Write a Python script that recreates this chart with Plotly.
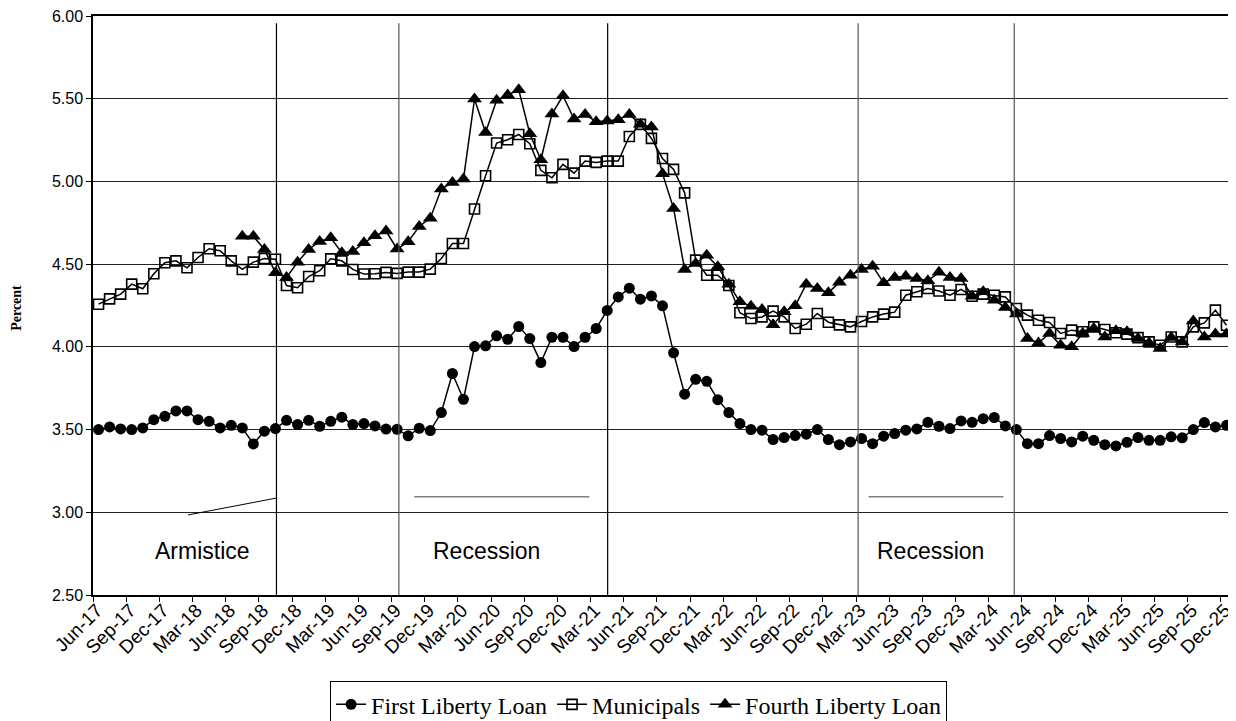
import plotly.graph_objects as go

# ---- data (monthly, Jun-17 .. Dec-25) ----
tick_labels = []
_months = ["Mar", "Jun", "Sep", "Dec"]
for yr in range(17, 26):
    for m in _months:
        if (yr == 17 and m == "Mar"):
            continue
        tick_labels.append(f"{m}-{yr}")

first_liberty = [3.50, 3.516, 3.504, 3.50, 3.51, 3.56, 3.58, 3.613, 3.613, 3.56,
                 3.55, 3.51, 3.526, 3.51, 3.413, 3.49, 3.506, 3.556, 3.53, 3.556,
                 3.52, 3.55, 3.575, 3.53, 3.536, 3.522, 3.503,
                 3.502, 3.462, 3.508, 3.494, 3.603, 3.839, 3.683, 4.002, 4.006, 4.067,
                 4.046, 4.123, 4.05, 3.905, 4.058, 4.058, 4.002, 4.058, 4.111, 4.22,
                 4.302, 4.355, 4.288, 4.308, 4.248,
                 3.964, 3.714, 3.804, 3.792, 3.681, 3.603, 3.536, 3.50, 3.496, 3.44,
                 3.452, 3.464, 3.472, 3.50, 3.44, 3.409, 3.425, 3.446, 3.415, 3.46,
                 3.476, 3.496, 3.504, 3.544, 3.52,
                 3.506, 3.552, 3.544, 3.566, 3.573, 3.522, 3.50, 3.415, 3.415, 3.464,
                 3.446, 3.425, 3.46, 3.435, 3.409, 3.401, 3.423, 3.452, 3.435, 3.435,
                 3.456, 3.45, 3.50, 3.542, 3.516, 3.526]

municipals = [4.258, 4.29, 4.319, 4.379, 4.351, 4.442, 4.508, 4.52, 4.478, 4.54,
              4.593, 4.581, 4.52, 4.468, 4.512, 4.534, 4.53, 4.371, 4.357, 4.425,
              4.46, 4.532, 4.52, 4.468, 4.44, 4.442, 4.45,
              4.444, 4.452, 4.452, 4.47, 4.534, 4.625, 4.625, 4.833, 5.034, 5.232,
              5.252, 5.284, 5.228, 5.067, 5.022, 5.103, 5.05, 5.123, 5.115, 5.123,
              5.123, 5.272, 5.345, 5.26, 5.139,
              5.073, 4.931, 4.524, 4.433, 4.433, 4.371, 4.206, 4.171, 4.181, 4.216,
              4.181, 4.111, 4.137, 4.202, 4.149, 4.133, 4.121, 4.153, 4.181, 4.198,
              4.21, 4.312, 4.333, 4.353, 4.338,
              4.312, 4.347, 4.306, 4.319, 4.312, 4.302, 4.232, 4.192, 4.161, 4.147,
              4.081, 4.101, 4.091, 4.121, 4.105, 4.085, 4.077, 4.056, 4.03, 4.01,
              4.06, 4.03, 4.121, 4.145, 4.222, 4.131]

fourth_liberty = [None] * 13 + [
    4.669, 4.669, 4.589, 4.448, 4.419, 4.512, 4.589, 4.637, 4.659, 4.569,
    4.577, 4.629, 4.671, 4.70,
    4.591, 4.635, 4.728, 4.778, 4.954, 4.994, 5.014, 5.498, 5.296, 5.49,
    5.522, 5.554, 5.288, 5.131, 5.407, 5.518, 5.377, 5.405, 5.361, 5.365,
    5.373, 5.405, 5.345, 5.329, 5.047,
    4.837, 4.468, 4.504, 4.554, 4.484, 4.379, 4.272, 4.246, 4.226, 4.133,
    4.212, 4.248, 4.379, 4.353, 4.327, 4.391, 4.433, 4.468, 4.488, 4.387,
    4.419, 4.427, 4.413, 4.399, 4.451,
    4.419, 4.413, 4.306, 4.333, 4.282, 4.238, 4.198, 4.05, 4.024, 4.081,
    4.01, 4.0, 4.081, 4.111, 4.06, 4.097, 4.091, 4.05, 4.024, 3.99,
    4.056, 4.03, 4.157, 4.06, 4.077, 4.077]

idx = list(range(len(first_liberty)))

fig = go.Figure()
fig.add_trace(go.Scatter(x=idx, y=first_liberty, name="First Liberty Loan", mode="lines+markers",
                         line=dict(color="black", width=1.5),
                         marker=dict(symbol="circle", size=11, color="black")))
fig.add_trace(go.Scatter(x=idx, y=municipals, name="Municipals", mode="lines+markers",
                         line=dict(color="black", width=1.5),
                         marker=dict(symbol="square-open", size=10, color="black", line=dict(width=1.6))))
fig.add_trace(go.Scatter(x=idx, y=fourth_liberty, name="Fourth Liberty Loan", mode="lines+markers",
                         line=dict(color="black", width=1.5),
                         marker=dict(symbol="triangle-up", size=13, color="black")))

shapes = []
# event separator lines
for xv, col in [(16.09, "black"), (27.16, "#555"), (46.04, "black"), (68.69, "#555"), (82.81, "#555")]:
    shapes.append(dict(type="line", xref="x", yref="y", x0=xv, x1=xv, y0=5.956, y1=2.5,
                       line=dict(color=col, width=1.2)))
# armistice pointer
shapes.append(dict(type="line", xref="x", yref="y", x0=8.10, y0=2.984, x1=16.09, y1=3.086,
                   line=dict(color="black", width=1)))
# recession bars
for a, b in [(28.55, 44.38), (69.63, 81.84)]:
    shapes.append(dict(type="line", xref="x", yref="y", x0=a, x1=b, y0=3.094, y1=3.094,
                       line=dict(color="#808080", width=1.5)))

annotations = []
for txt, xv in [("Armistice", 9.37), ("Recession", 35.06), ("Recession", 75.23)]:
    annotations.append(dict(text=txt, x=xv, y=2.766, xref="x", yref="y", showarrow=False,
                            font=dict(family="Liberation Sans, Arial", size=23, color="black")))
annotations.append(dict(text="<b>Percent</b>", x=-0.0667, y=0.496, xref="paper", yref="paper",
                        xanchor="center", yanchor="middle",
                        textangle=-90, showarrow=False,
                        font=dict(family="Liberation Serif, Times New Roman", size=14, color="black")))

# the page body has an 8px margin, so the figure is offset by 8px; compensate
fig.update_layout(
    width=1228, height=713, autosize=False,
    margin=dict(l=85, r=4, t=8, b=126, autoexpand=False),
    plot_bgcolor="white", paper_bgcolor="white",
    shapes=shapes, annotations=annotations,
    showlegend=True,
    legend=dict(orientation="h", x=0.479, xanchor="center", y=-0.149, yanchor="top",
                bordercolor="black", borderwidth=1, bgcolor="white",
                font=dict(family="Liberation Serif, Times New Roman", size=24, color="black"),
                itemwidth=30, tracegroupgap=0),
    xaxis=dict(range=[-0.5, 102.5], tickmode="array",
               tickvals=[-0.5 + 3 * k for k in range(len(tick_labels))], ticktext=tick_labels,
               tickangle=-45, ticks="outside", ticklen=5, tickcolor="black",
               ticklabelstandoff=-10, ticklabelshift=4, ticklabeloverflow="allow",
               showgrid=False, zeroline=False, showline=True, linecolor="black", linewidth=1.5,
               mirror=True,
               tickfont=dict(family="Liberation Sans, Arial", size=19, color="black")),
    yaxis=dict(range=[2.5, 6.0], dtick=0.5, tick0=2.5, tickformat=".2f",
               ticks="outside", ticklen=5, tickcolor="black", ticklabeloverflow="allow",
               showgrid=True, gridcolor="#222", gridwidth=1, zeroline=False,
               showline=True, linecolor="black", linewidth=1.5, mirror=True,
               tickfont=dict(family="Liberation Sans, Arial", size=16, color="black")),
)

fig.write_html("out.html")
